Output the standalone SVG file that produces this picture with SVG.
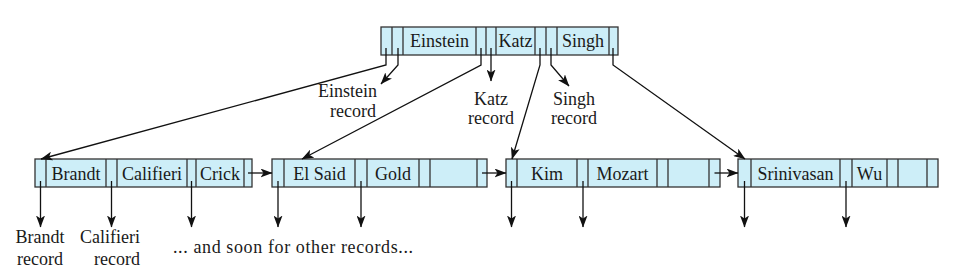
<svg xmlns="http://www.w3.org/2000/svg" width="963" height="271" viewBox="0 0 963 271">
<style>
.box{fill:#cdeef8;stroke:#333;stroke-width:1.3}
.div{stroke:#333;stroke-width:1.3;fill:none}
text{font-family:'Liberation Serif','DejaVu Serif',serif;font-size:18px;fill:#1a1a1a}
.m{text-anchor:middle}
.e{text-anchor:end}
.c{fill:none;stroke:#111;stroke-width:1.3}
</style>
<defs>
<marker id="ah" viewBox="0 0 12 9" refX="11.5" refY="4.5" markerWidth="12" markerHeight="9" markerUnits="userSpaceOnUse" orient="auto">
<path d="M0,0 L12,4.5 L0,9 L3,4.5 z" fill="#111"/>
</marker>
</defs>
<rect width="963" height="271" fill="#fff"/>

<g id="root">
<rect class="box" x="381" y="27" width="237" height="28"/>
<path class="div" d="M392,27V55M403,27V55M476,27V55M486,27V55M496,27V55M535,27V55M546,27V55M557,27V55M609,27V55"/>
<text class="m" x="439.5" y="47">Einstein</text>
<text class="m" x="515.5" y="47">Katz</text>
<text class="m" x="583" y="47">Singh</text>
</g>

<g id="leaf1">
<rect class="box" x="35" y="159" width="217" height="28"/>
<path class="div" d="M46,159V187M106,159V187M117,159V187M187,159V187M196,159V187M244,159V187"/>
<text class="m" x="76" y="180">Brandt</text>
<text class="m" x="152" y="180">Califieri</text>
<text class="m" x="220" y="180">Crick</text>
</g>

<g id="leaf2">
<rect class="box" x="272" y="159" width="215" height="28"/>
<path class="div" d="M284,159V187M355,159V187M367,159V187M419,159V187M430,159V187M477,159V187"/>
<text class="m" x="319.5" y="180">El Said</text>
<text class="m" x="393" y="180">Gold</text>
</g>

<g id="leaf3">
<rect class="box" x="506" y="159" width="214" height="28"/>
<path class="div" d="M517,159V187M577,159V187M588,159V187M657,159V187M668,159V187M709,159V187"/>
<text class="m" x="547" y="180">Kim</text>
<text class="m" x="622.5" y="180">Mozart</text>
</g>

<g id="leaf4">
<rect class="box" x="738" y="159" width="200" height="28"/>
<path class="div" d="M751,159V187M840,159V187M852,159V187M887,159V187M898,159V187M927,159V187"/>
<text class="m" x="795.5" y="180">Srinivasan</text>
<text class="m" x="869.5" y="180">Wu</text>
</g>

<g id="labels">
<text class="e" x="377" y="97">Einstein</text>
<text class="e" x="376" y="117">record</text>
<text class="m" x="491" y="105">Katz</text>
<text class="m" x="491" y="124">record</text>
<text class="m" x="574" y="105">Singh</text>
<text class="m" x="574" y="124">record</text>
<text class="m" x="40" y="243">Brandt</text>
<text class="m" x="40" y="265">record</text>
<text class="e" x="140" y="243">Califieri</text>
<text class="e" x="140" y="265">record</text>
<text x="173" y="253" textLength="240" lengthAdjust="spacing">... and soon for other records...</text>
</g>

<g id="connectors">
<path class="c" marker-end="url(#ah)" d="M386,48V65L41,159"/>
<path class="c" marker-end="url(#ah)" d="M398,48V65L381,84"/>
<path class="c" marker-end="url(#ah)" d="M481,48V65L302,159"/>
<path class="c" marker-end="url(#ah)" d="M491,48V81"/>
<path class="c" marker-end="url(#ah)" d="M540,48V65L512,159"/>
<path class="c" marker-end="url(#ah)" d="M551,48V65L569,86"/>
<path class="c" marker-end="url(#ah)" d="M613,48V65L745,159"/>

<path class="c" marker-end="url(#ah)" d="M40.5,181V227"/>
<path class="c" marker-end="url(#ah)" d="M111.5,181V227"/>
<path class="c" marker-end="url(#ah)" d="M191.5,181V227"/>
<path class="c" marker-end="url(#ah)" d="M278,181V227"/>
<path class="c" marker-end="url(#ah)" d="M361,181V227"/>
<path class="c" marker-end="url(#ah)" d="M511.5,181V227"/>
<path class="c" marker-end="url(#ah)" d="M583,181V227"/>
<path class="c" marker-end="url(#ah)" d="M744.5,181V227"/>
<path class="c" marker-end="url(#ah)" d="M846,181V227"/>

<path class="c" marker-end="url(#ah)" d="M248,173H272"/>
<path class="c" marker-end="url(#ah)" d="M482,173H506"/>
<path class="c" marker-end="url(#ah)" d="M714.5,173H738"/>
</g>
</svg>
